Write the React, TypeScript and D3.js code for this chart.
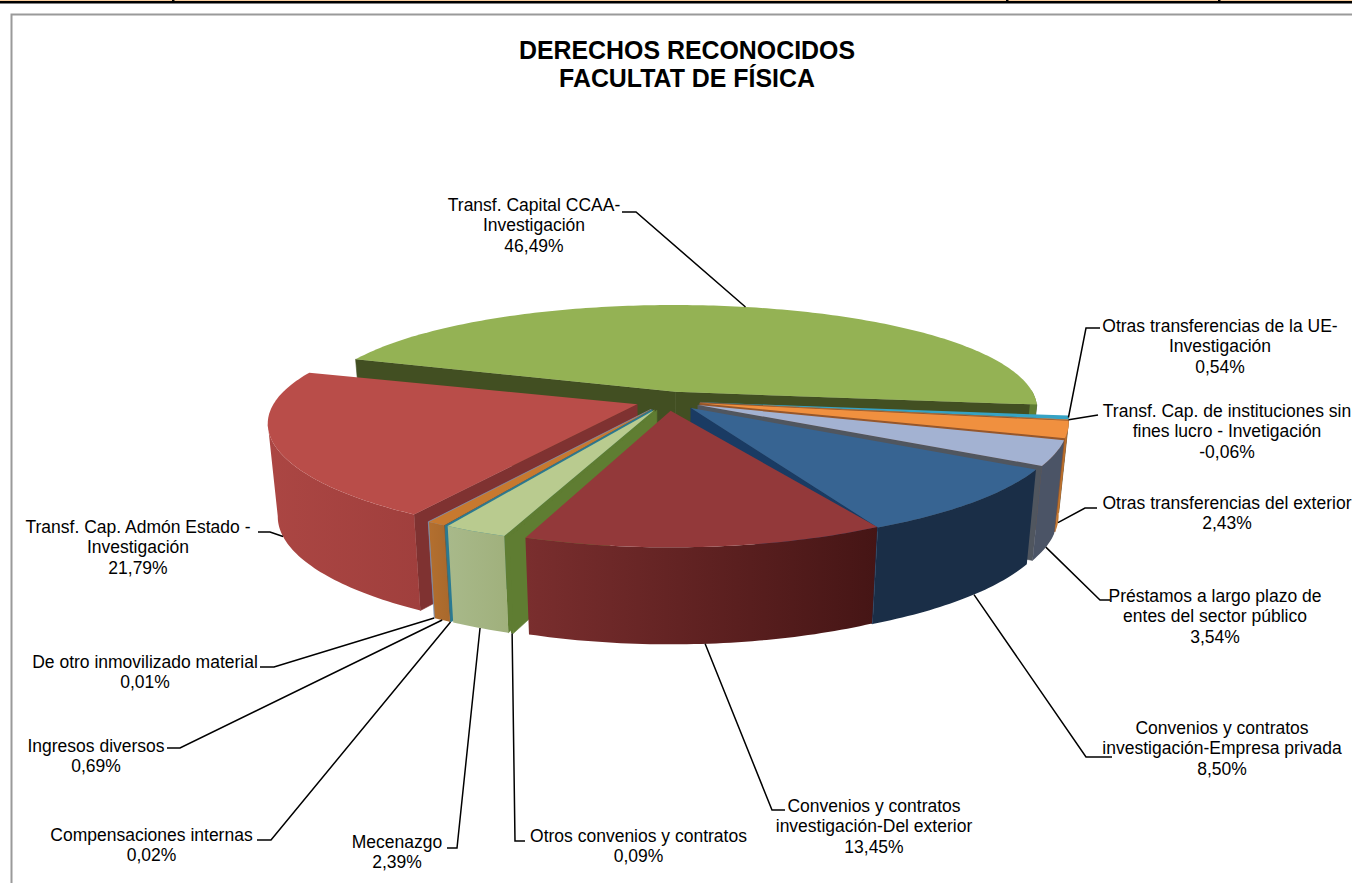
import React from "react";
import * as d3 from "d3";

const titleLines = ["DERECHOS RECONOCIDOS", "FACULTAT DE FÍSICA"];

const categories = [
  ["Transf. Capital CCAA-", "Investigación"],
  ["Otras transferencias de la UE-", "Investigación"],
  ["Transf. Cap. de instituciones sin", "fines lucro - Invetigación"],
  ["Otras transferencias del exterior"],
  ["Préstamos a largo plazo de", "entes del sector público"],
  ["Convenios y contratos", "investigación-Empresa privada"],
  ["Convenios y contratos", "investigación-Del exterior"],
  ["Otros convenios y contratos"],
  ["Mecenazgo"],
  ["Compensaciones internas"],
  ["Ingresos diversos"],
  ["De otro inmovilizado material"],
  ["Transf. Cap. Admón Estado -", "Investigación"],
];
const percentLabels = ["46,49%", "0,54%", "-0,06%", "2,43%", "3,54%", "8,50%", "13,45%", "0,09%", "2,39%", "0,02%", "0,69%", "0,01%", "21,79%"];
const values = [46.49, 0.54, -0.06, 2.43, 3.54, 8.5, 13.45, 0.09, 2.39, 0.02, 0.69, 0.01, 21.79];

const topColors = ["#94b254", "#36a3c4", "#f0903f", "#f0903f", "#a3b2d2", "#376492", "#93393a", "#5f7d32", "#b9cb8f", "#2f7f9f", "#c7792f", "#8aa0c0", "#b94d49"];
const wallStart = ["#5f7d32", "#2a7a92", "#c77a2f", "#c77a2f", "#4b5466", "#1a2e47", "#7a2e2e", "#5f7d32", "#a8b98a", "#2a7a92", "#b36f2f", "#7f92b0", "#ab4643"];
const wallEnd = ["#5f7d32", "#2a7a92", "#b36a2a", "#b36a2a", "#4b5466", "#1a2e47", "#451515", "#5f7d32", "#a0b07c", "#2a7a92", "#a9692c", "#7f92b0", "#a03f3d"];
const cutColors = ["#424f22", "#2a7a92", "#96572c", "#96572c", "#50565f", "#1a3b63", "#6a2525", "#5f7d32", "#5f7d32", "#2a7a92", "#8a5020", "#7f92b0", "#7f3231"];
// paint order, back to front
const paintOrder = [0, 1, 2, 3, 4, 5, 12, 11, 10, 9, 8, 7, 6];
// how far each slice's drawn rim is nudged past its share (degrees), start and end
const nudgeStart = [0, 0, 0, 0, 0, 0, 0, 0, 0, 0, 0, 0, 0];
const nudgeEnd = [0, 0, 0, 0, 0, 3.5, 0, 0, 0, 0, 0, 0, -1.5];

// label layout: centre x, first baseline, leader head points
const labelCx = [534, 1220, 1227, 1227, 1215, 1222, 874, 638.5, 397, 151.5, 96, 145, 138];
const labelY = [211, 332, 417, 509, 602, 734, 812, 842, 848, 841, 752, 668, 533];
const leaderHeads = [
  [[622, 212], [636, 212]],
  [[1100, 328], [1086, 328]],
  [[1098, 415], [1098, 415]],
  [[1097, 508], [1085, 508]],
  [[1110, 600], [1100, 600]],
  [[1112, 757], [1086, 757]],
  [[785, 810], [772, 810]],
  [[525, 841], [515, 841]],
  [[447, 848], [457, 848]],
  [[257, 840], [271, 840]],
  [[167, 748], [180, 748]],
  [[260, 667], [274, 667]],
  [[258, 532], [270, 532]],
];
const leaderOnTop = [true, true, true, false, false, false, false, false, false, false, false, false, false];

const W = 1352, H = 883;
const cx = 668, cy = 401, R = 362, T = 106.5, EXPL = 0.09, K = 0.19, KX = 0.16, DEPTH = 92;
const startDeg = -70.4;

function makeProject(mid: number) {
  return (theta: number, r: number, z: number): [number, number] => {
    const X = r * Math.sin(theta) + EXPL * Math.sin(mid);
    const Y = -r * Math.cos(theta) - EXPL * Math.cos(mid);
    const s = 1 / (1 - Y * K);
    const sx = 1 / (1 - Y * KX);
    return [cx + R * X * sx * (1 - 0.025 * z), cy + T * Y * s + z * DEPTH * (1 + 0.05 * Y)];
  };
}

const pie = d3.pie<number>().value((d) => Math.abs(d)).sort(null)
  .startAngle((startDeg * Math.PI) / 180).endAngle((startDeg * Math.PI) / 180 + 2 * Math.PI);
const arcs = pie(values);
const line = d3.line();
const RAD = Math.PI / 180;

function samples(a: number, b: number) {
  const n = Math.max(2, Math.ceil((b - a) / RAD));
  return d3.range(n + 1).map((i) => a + ((b - a) * i) / n);
}

export default function App() {
  const TAU = 2 * Math.PI;
  return (
    <svg width={W} height={H} style={{ position: "absolute", left: 0, top: 0, display: "block", fontFamily: "'Liberation Sans', Arial, sans-serif" }}>
      <defs>
        {values.map((_, i) => (
          <linearGradient key={i} id={`wall${i}`} x1="0" x2="1" y1="0" y2="0">
            <stop offset="0" stopColor={wallStart[i]} />
            <stop offset="1" stopColor={wallEnd[i]} />
          </linearGradient>
        ))}
      </defs>
      <rect x={0} y={0} width={W} height={H} fill="#fff" />
      <rect x={0} y={0} width={W} height={1} fill="#fbcf9f" />
      <rect x={0} y={1} width={W} height={2.5} fill="#000" />
      {[173, 1007, 1219].map((x) => <rect key={x} x={x - 1} y={0} width={2.5} height={3} fill="#000" />)}
      <path d={`M11.5 ${H} V14.5 H${W}`} fill="none" stroke="#9a9a9a" strokeWidth={2} />
      <g fontSize={24.9} fontWeight="bold" textAnchor="middle" fill="#000">
        {titleLines.map((t, i) => <text key={i} x={687} y={59 + i * 28}>{t}</text>)}
      </g>
      {paintOrder.map((i) => {
        const a = arcs[i];
        const mid = (a.startAngle + a.endAngle) / 2;
        const P = makeProject(mid);
        const s0 = a.startAngle + nudgeStart[i] * RAD, e0 = a.endAngle + nudgeEnd[i] * RAD;
        const rim = samples(s0, e0);
        const top = [P(0, 0, 0), ...rim.map((t) => P(t, 1, 0))];
        const sinS = Math.sin(s0), sinE = Math.sin(e0);
        const cut = (t: number) => [P(0, 0, 0), P(t, 1, 0), P(t, 1, 1), P(0, 0, 1)] as [number, number][];
        const lo = 88 * RAD, hi = 285 * RAD;
        const norm = (t: number) => ((t % TAU) + TAU) % TAU;
        let wallAngles = rim.filter((t) => { const n = norm(t); return n >= lo && n <= hi; });
        if (wallAngles.length > 1 && norm(wallAngles[wallAngles.length - 1]) > 250 * RAD) {
          // stop at the left silhouette so the wall band does not fold over itself
          const k = d3.leastIndex(wallAngles, (p, q) => P(p, 1, 0)[0] - P(q, 1, 0)[0])!;
          wallAngles = wallAngles.slice(0, k + 1);
        }
        const wall = wallAngles.length > 1
          ? [...wallAngles.map((t) => P(t, 1, 0)), ...wallAngles.slice().reverse().map((t) => P(t, 1, 1))] : null;
        return (
          <g key={i}>
            {sinS < 0 && <path d={line(cut(s0))! + "Z"} fill={cutColors[i]} stroke={cutColors[i]} strokeWidth={0.6} />}
            {sinE > 0 && <path d={line(cut(e0))! + "Z"} fill={cutColors[i]} stroke={cutColors[i]} strokeWidth={0.6} />}
            {wall && <path d={line(wall as [number, number][])! + "Z"} fill={`url(#wall${i})`} />}
            <path d={line(top as [number, number][])! + "Z"} fill={topColors[i]} />
          </g>
        );
      })}
      <g fill="none" stroke="#000" strokeWidth={1.5}>
        {arcs.map((a, i) => {
          const mid = (a.startAngle + a.endAngle) / 2;
          const end = makeProject(mid)(mid, 1, leaderOnTop[i] ? 0 : 1);
          const pts = [...leaderHeads[i], end] as [number, number][];
          return <path key={i} d={line(pts)!} />;
        })}
      </g>
      <g fontSize={17.5} textAnchor="middle" fill="#000">
        {categories.map((lines, i) => (
          <text key={i}>
            {[...lines, percentLabels[i]].map((t, j) => (
              <tspan key={j} x={labelCx[i]} y={labelY[i] + j * 20.4}>{t}</tspan>
            ))}
          </text>
        ))}
      </g>
    </svg>
  );
}
